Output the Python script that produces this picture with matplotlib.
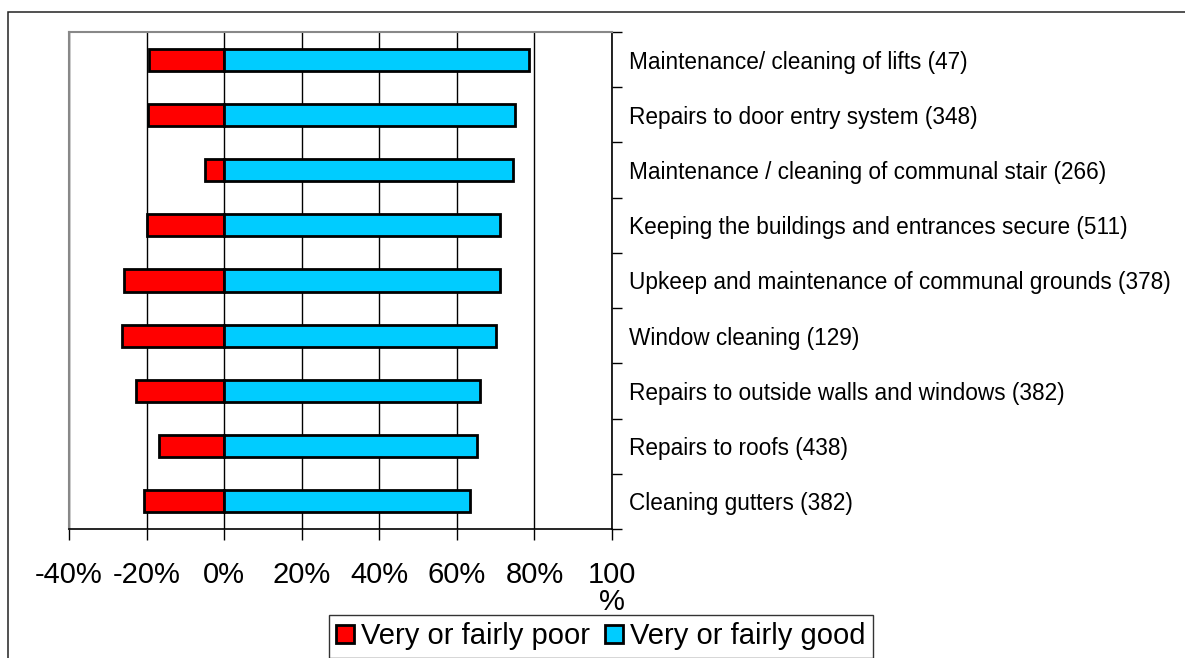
import numpy as np
import matplotlib.pyplot as plt
from matplotlib.patches import Rectangle

plt.rcParams['font.family'] = ['Liberation Sans', 'DejaVu Sans']

# Survey items, top to bottom
items = [
    "Maintenance/ cleaning of lifts (47)",
    "Repairs to door entry system (348)",
    "Maintenance / cleaning of communal stair (266)",
    "Keeping the buildings and entrances secure (511)",
    "Upkeep and maintenance of communal grounds (378)",
    "Window cleaning (129)",
    "Repairs to outside walls and windows (382)",
    "Repairs to roofs (438)",
    "Cleaning gutters (382)",
]
poor = [-19.3, -19.7, -4.9, -20.0, -25.8, -26.3, -22.7, -16.8, -20.7]   # %
good = [78.7, 74.9, 74.4, 71.0, 71.0, 70.2, 66.0, 65.3, 63.3]           # %

xticks = [-40, -20, 0, 20, 40, 60, 80, 100]
xlabels = ["-40%", "-20%", "0%", "20%", "40%", "60%", "80%", "100\n%"]

W, H = 1185, 658
fig = plt.figure(figsize=(W / 100, H / 100), dpi=100)
ax = fig.add_axes([69 / W, 1 - 529 / H, (612 - 69) / W, (529 - 32) / H])

# outer chart frame
fig.add_artist(Rectangle((8 / W, -0.1), 1.2, 1.1 - 12 / H, transform=fig.transFigure,
                         fill=False, edgecolor="#222222", linewidth=1.1))

y = np.arange(len(items))[::-1]
ax.barh(y, poor, height=0.4, color="#FF0000", edgecolor="black", linewidth=2,
        label="Very or fairly poor", zorder=3)
ax.barh(y, good, height=0.4, color="#00CCFF", edgecolor="black", linewidth=2,
        label="Very or fairly good", zorder=3)

ax.set_xlim(-40, 100)
ax.set_ylim(-0.5, len(items) - 0.5)
ax.set_xticks(xticks)
ax.set_xticklabels(xlabels, fontsize=21, linespacing=0.95)
ax.tick_params(axis="x", direction="out", length=8, width=1, pad=15)
ax.grid(axis="x", color="black", linewidth=1, zorder=0)

# category labels on the right, ticks between categories
ax.yaxis.tick_right()
ax.set_yticks(y)
ax.set_yticklabels(items, fontsize=16.3)
ax.tick_params(axis="y", which="major", length=0, pad=12)
ax.set_yticks(np.arange(len(items) + 1) - 0.5, minor=True)
ax.tick_params(axis="y", which="minor", direction="out", length=7, width=1)

ax.spines["left"].set_color("#888888")
ax.spines["top"].set_color("#888888")
for s in ("left", "top"):
    ax.spines[s].set_linewidth(1.5)
for s in ("right", "bottom"):
    ax.spines[s].set_color("black")
    ax.spines[s].set_linewidth(1.2)

leg = fig.legend(loc="upper left", bbox_to_anchor=(329 / W, 1 - 615 / H), ncol=2,
                 fontsize=21, frameon=True, fancybox=False, edgecolor="black",
                 handlelength=0.62, handleheight=0.62, handletextpad=0.24,
                 columnspacing=0.5, borderpad=0.25, borderaxespad=0)
leg.get_frame().set_linewidth(1)

fig.savefig("out.png", dpi=100)
